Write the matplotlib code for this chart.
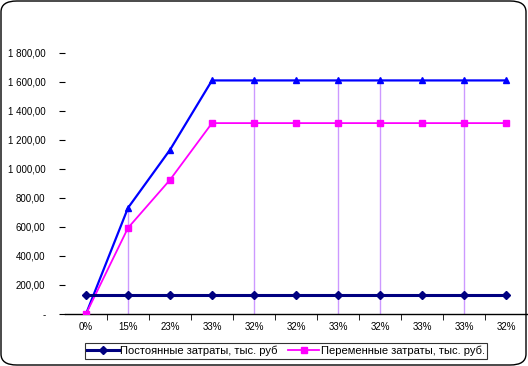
import matplotlib.pyplot as plt
from matplotlib.patches import FancyBboxPatch
from matplotlib.ticker import FuncFormatter

plt.rcParams['font.family'] = ['Liberation Sans', 'DejaVu Sans']

# данные
labels = ['0%', '15%', '23%', '33%', '32%', '32%', '33%', '32%', '33%', '33%', '32%']
total_costs = [0, 731, 1131, 1609, 1609, 1609, 1609, 1609, 1609, 1609, 1609]
variable_costs = [0, 593, 924, 1315, 1315, 1315, 1315, 1315, 1315, 1315, 1315]
fixed_costs = [131] * 11
drop_idx = [1, 4, 6, 7, 9]

x = list(range(len(labels)))

fig = plt.figure(figsize=(5.28, 3.66), dpi=100)
ax = fig.add_axes([65 / 528, 1 - 314 / 366, 462 / 528, (314 - 52.7) / 366])

# вертикальные линии
ax.vlines([x[i] for i in drop_idx], 0, [total_costs[i] for i in drop_idx],
          color='#CC99FF', linewidth=1, zorder=1)

ax.plot(x, total_costs, color='#0000FF', linewidth=1.6, marker='^', markersize=5, zorder=3)
ax.plot(x, variable_costs, color='#FF00FF', linewidth=1.3, marker='s', markersize=5,
        label='Переменные затраты, тыс. руб.', zorder=3)
ax.plot(x, fixed_costs, color='#000080', linewidth=2.2, marker='D', markersize=4,
        label='Постоянные затраты, тыс. руб', zorder=4)

ax.set_xlim(-0.5, 10.5)
ax.set_ylim(0, 1800)
ax.set_yticks(range(0, 1801, 200))


def fmt(v, pos):
    if v == 0:
        return '-'
    return f'{v:,.2f}'.replace(',', ' ').replace('.', ',')


ax.yaxis.set_major_formatter(FuncFormatter(fmt))
ax.set_xticks(x)
ax.set_xticklabels(labels)
ax.set_xticks([i + 0.5 for i in range(10)], minor=True)
ax.tick_params(axis='x', which='major', length=0, labelsize=7, pad=6)
ax.tick_params(axis='x', which='minor', length=4, direction='out')
ax.tick_params(axis='y', length=4, direction='out', labelsize=7, pad=10)

for s in ['top', 'right', 'left']:
    ax.spines[s].set_visible(False)
ax.spines['bottom'].set_linewidth(1)

handles, lbls = ax.get_legend_handles_labels()
leg = fig.legend(handles[::-1], lbls[::-1], loc='center', bbox_to_anchor=(286 / 528, 1 - 351 / 366),
                 ncol=2, fontsize=8, frameon=True, fancybox=False, edgecolor='black',
                 handlelength=2.8, columnspacing=1.0, borderpad=0.25, handletextpad=0.1)
leg.get_frame().set_linewidth(0.8)

# рамка диаграммы
border = FancyBboxPatch((1 / 528, 1 / 366), 525 / 528, 364 / 366,
                        boxstyle='round,pad=0,rounding_size=0.03',
                        transform=fig.transFigure, fill=False, edgecolor='black', linewidth=1)
fig.patches.append(border)

fig.savefig('out.png', dpi=100)
